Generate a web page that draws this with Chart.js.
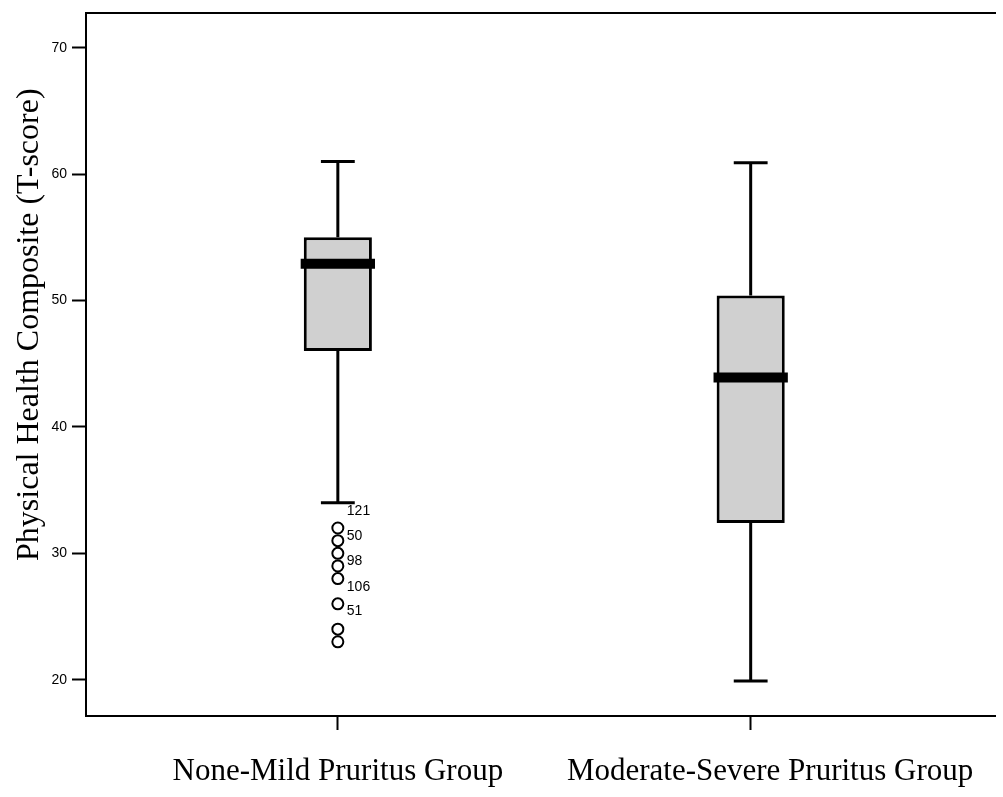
<!DOCTYPE html>
<html>
<head>
<meta charset="utf-8">
<script src="https://cdn.jsdelivr.net/npm/chart.js@4/dist/chart.umd.min.js"></script>
<style>
  html, body { margin: 0; padding: 0; background: #fff; overflow: hidden; }
  canvas { display: block; }
</style>
</head>
<body>
<canvas id="chart" width="1003" height="797"></canvas>
<script>
// ---------- DATA ----------
const groups = ["None-Mild Pruritus Group", "Moderate-Severe Pruritus Group"];
const whiskerLow = [34, 19.9];
const q1 = [46, 32.4];
const median = [52.9, 43.9];
const q3 = [55, 50.4];
const whiskerHigh = [61, 60.9];
// outliers of group 1 (None-Mild)
const outlierValues = [32, 31, 30, 29, 28, 26, 24, 23];
// case-number tags next to the outliers and the level they sit at
const outlierTags = ["121", "50", "98", "106", "51"];
const outlierTagLevels = [33.3, 31.35, 29.4, 27.35, 25.4];
const yTicks = [20, 30, 40, 50, 60, 70];

// ---------- STYLE ----------
const BOX_FILL = "#d0d0d0";
const INK = "#000";
const CAP_HALF = 0.041;   // whisker cap half width (x units)
const MED_HALF = 0.09;    // median bar half width (x units)
const SERIF = "'Liberation Serif', 'Times New Roman', serif";
const SANS = "'Liberation Sans', Arial, sans-serif";

// ---------- BUILD SEGMENTS ----------
const gap = (x) => ({ x: x, y: null });
const whiskerPts = [];
const capPts = [];
const medianPts = [];
groups.forEach((g, i) => {
  const x = i + 1;
  whiskerPts.push({ x, y: q3[i] }, { x, y: whiskerHigh[i] }, gap(x));
  whiskerPts.push({ x, y: whiskerLow[i] }, { x, y: q1[i] }, gap(x));
  capPts.push({ x: x - CAP_HALF, y: whiskerHigh[i] }, { x: x + CAP_HALF, y: whiskerHigh[i] }, gap(x));
  capPts.push({ x: x - CAP_HALF, y: whiskerLow[i] }, { x: x + CAP_HALF, y: whiskerLow[i] }, gap(x));
  medianPts.push({ x: x - MED_HALF, y: median[i] }, { x: x + MED_HALF, y: median[i] }, gap(x));
});

// ---------- EXTRA TEXT (y title + outlier tags) ----------
const textPlugin = {
  id: "extraText",
  afterDatasetsDraw(chart) {
    const ctx = chart.ctx;
    const xs = chart.scales.x;
    const ys = chart.scales.y;
    const area = chart.chartArea;
    ctx.save();
    ctx.fillStyle = INK;
    ctx.font = "14px " + SANS;
    ctx.textAlign = "left";
    ctx.textBaseline = "middle";
    outlierTags.forEach((t, i) => {
      ctx.fillText(t, xs.getPixelForValue(1) + 9, ys.getPixelForValue(outlierTagLevels[i]));
    });
    // axis title
    ctx.translate(30, (area.top + area.bottom) / 2 - 40);
    ctx.rotate(-Math.PI / 2);
    ctx.font = "32px " + SERIF;
    ctx.textAlign = "center";
    ctx.textBaseline = "middle";
    ctx.fillText("Physical Health Composite (T-score)", 0, 0);
    ctx.restore();
  },
};

const line = { showLine: true, spanGaps: false, borderColor: INK, borderWidth: 3, pointRadius: 0, xAxisID: "x", yAxisID: "y" };

new Chart(document.getElementById("chart"), {
  type: "scatter",
  data: {
    datasets: [
      {
        type: "bar",
        xAxisID: "x",
        yAxisID: "y",
        data: groups.map((g, i) => ({ x: i + 1, y: [q1[i], q3[i]] })),
        backgroundColor: BOX_FILL,
        borderColor: INK,
        borderWidth: 3,
        borderSkipped: false,
        barPercentage: 0.165,
        categoryPercentage: 1,
        order: 4,
      },
      Object.assign({ data: whiskerPts, order: 3 }, line),
      Object.assign({ data: capPts, order: 2 }, line),
      Object.assign({ data: medianPts, order: 1 }, line, { borderWidth: 10, borderCapStyle: "butt" }),
      {
        xAxisID: "x",
        yAxisID: "y",
        data: outlierValues.map((v) => ({ x: 1, y: v })),
        pointStyle: "circle",
        pointRadius: 5.5,
        pointBorderWidth: 2,
        pointBorderColor: INK,
        pointBackgroundColor: "rgba(255,255,255,0)",
        order: 0,
      },
    ],
  },
  options: {
    responsive: false,
    animation: false,
    events: [],
    layout: { padding: { top: 9, left: 0, right: 0, bottom: 0 } },
    plugins: {
      legend: { display: false },
      tooltip: { enabled: false },
    },
    scales: {
      x: {
        type: "linear",
        position: "bottom",
        offset: false,
        min: 0.39,
        max: 2.593,
        afterBuildTicks: (s) => { s.ticks = groups.map((g, i) => ({ value: i + 1 })); },
        afterFit: (s) => { s.height = 81; },
        ticks: {
          color: INK,
          padding: 23,
          maxRotation: 0,
          autoSkip: false,
          font: { family: SERIF, size: 31 },
          // second label sits a little right of its tick in the original
          callback: (v) => (Math.round(v) === 2 ? "     " : "") + (groups[Math.round(v) - 1] || ""),
        },
        grid: { offset: false, drawOnChartArea: false, tickLength: 14, tickWidth: 2, color: INK },
        border: { color: INK, width: 2 },
      },
      xTop: {
        type: "linear",
        position: "top",
        offset: false,
        min: 0.39,
        max: 2.593,
        afterBuildTicks: (s) => { s.ticks = []; },
        afterFit: (s) => { s.height = 0; },
        ticks: { display: false },
        grid: { offset: false, drawOnChartArea: false, drawTicks: false },
        border: { color: INK, width: 2 },
      },
      y: {
        min: 17.13,
        max: 72.71,
        afterBuildTicks: (s) => { s.ticks = yTicks.map((v) => ({ value: v })); },
        afterFit: (s) => { s.width = 86; },
        ticks: {
          color: INK,
          padding: 5,
          font: { family: SANS, size: 14 },
        },
        grid: { drawOnChartArea: false, tickLength: 14, tickWidth: 2, color: INK },
        border: { color: INK, width: 2 },
      },
    },
  },
  plugins: [textPlugin],
});
</script>
</body>
</html>
